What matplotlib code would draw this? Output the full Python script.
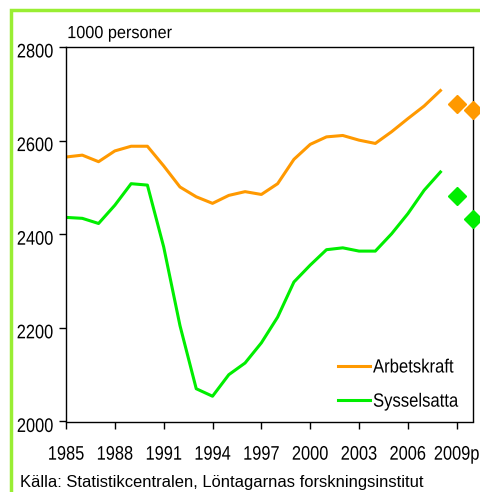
import matplotlib
matplotlib.use("Agg")
import matplotlib.pyplot as plt
import matplotlib.patheffects as pe
from matplotlib.patches import Rectangle
from matplotlib.transforms import Affine2D

plt.rcParams['font.family'] = ['Liberation Sans', 'DejaVu Sans']

# data (1000 personer)
years = list(range(1985, 2009))
arbetskraft = [2565, 2569, 2555, 2578, 2588, 2588, 2546, 2501, 2480, 2466,
               2483, 2491, 2485, 2508, 2560, 2592, 2608, 2611, 2601, 2594,
               2619, 2647, 2674, 2707]
sysselsatta = [2436, 2434, 2423, 2462, 2508, 2505, 2373, 2205, 2070, 2054,
               2100, 2125, 2168, 2223, 2298, 2334, 2367, 2371, 2364, 2364,
               2401, 2444, 2494, 2533]
prog_years = [2009, 2010]
arbetskraft_prog = [2678, 2665]
sysselsatta_prog = [2481, 2432]

tick_years = [1985, 1988, 1991, 1994, 1997, 2000, 2003, 2006, 2009]
tick_labels = ["1985", "1988", "1991", "1994", "1997", "2000", "2003", "2006", "2009p"]
y_ticks = [2000, 2200, 2400, 2600, 2800]

orange = "#FF9900"
green = "#00EE00"


class Stretch(pe.AbstractPathEffect):
    # makes the glyphs a bit taller (narrow-ish font look), dy moves them down
    def __init__(self, sy=1.2, dy=0):
        super().__init__()
        self.sy = sy
        self.dy = dy

    def draw_path(self, renderer, gc, tpath, affine, rgbFace=None):
        t = Affine2D().translate(0, -36).scale(1, self.sy).translate(0, 36 - self.dy)
        renderer.draw_path(gc, tpath, t + affine, rgbFace)


fig = plt.figure(figsize=(4.8, 4.92), dpi=100)
ax = fig.add_axes([66/480, 1 - 421.5/492, (473-66)/480, (421.5-47)/492])

ax.plot(years, arbetskraft, color=orange, lw=2.2, label="Arbetskraft")
ax.plot(years, sysselsatta, color=green, lw=2.2, label="Sysselsatta")
ax.plot(prog_years, arbetskraft_prog, "D", color=orange, ms=9, clip_on=False, zorder=5)
ax.plot(prog_years, sysselsatta_prog, "D", color=green, ms=9, clip_on=False, zorder=5)

ax.set_xlim(1985, 2010)
ax.set_ylim(2000, 2800)
ax.set_yticks(y_ticks)
ax.set_xticks(tick_years)
ax.set_xticklabels(tick_labels)
ax.tick_params(direction="out", length=5, width=1, labelsize=11.8)
ax.tick_params(axis="x", pad=13)
ax.tick_params(axis="y", pad=4)
for s in ax.spines.values():
    s.set_linewidth(1)
for lab in ax.get_xticklabels():
    lab.set_path_effects([Stretch(1.2)])
for lab in ax.get_yticklabels():
    lab.set_path_effects([Stretch(1.2, dy=20)])

ax.text(0.003, 1.017, "1000 personer", transform=ax.transAxes, fontsize=11.7,
        ha="left", va="bottom", path_effects=[Stretch(1.08)])

leg = ax.legend(loc="lower left", frameon=False, fontsize=12,
                handlelength=1.9, handletextpad=0.2, labelspacing=1.15,
                borderpad=0, borderaxespad=0,
                bbox_to_anchor=((338-66)/407, 0.034))
for t in leg.get_texts():
    t.set_path_effects([Stretch(1.15)])

fig.text(20/480, 1 - 482/492, "Källa: Statistikcentralen, Löntagarnas forskningsinstitut",
         fontsize=11.85, ha="left", va="center")

# green frame around the chart (runs off the right and bottom edges)
fig.patches.append(Rectangle((11/480, -0.1), 1.2, 1 - 10/492 + 0.1,
                             transform=fig.transFigure, fill=False,
                             edgecolor="#99EE33", lw=2.5))

fig.savefig("out.png", dpi=100)
